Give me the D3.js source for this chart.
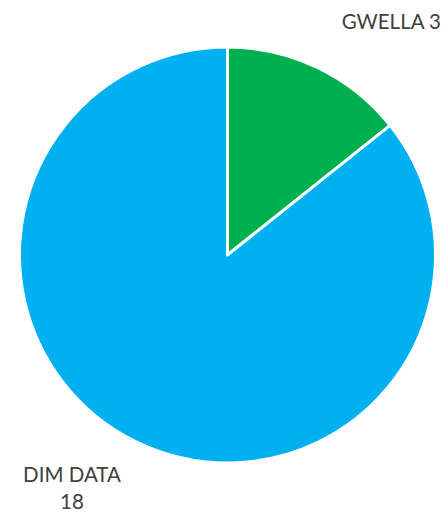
<!DOCTYPE html>
<html>
<head>
<meta charset="utf-8">
<script src="https://cdn.jsdelivr.net/npm/d3@7"></script>
<style>
  html, body { margin: 0; padding: 0; background: #fff; }
  svg text { font-family: Lato, "Open Sans", sans-serif; fill: #404040; }
</style>
</head>
<body>
<svg id="chart" width="448" height="515"></svg>
<script>
// ** Data **
const categories = ["GWELLA", "DIM DATA"];
const values = [3, 18];
const colors = ["#00B050", "#00B0F0"];

// ** Layout **
const cx = 227.5, cy = 255, radius = 208;

const svg = d3.select("#chart");

const pie = d3.pie().sort(null).value(d => d.value);
const arc = d3.arc().innerRadius(0).outerRadius(radius);

const slices = pie(categories.map((c, i) => ({ name: c, value: values[i], color: colors[i] })));

const g = svg.append("g").attr("transform", `translate(${cx},${cy})`);

g.selectAll("path")
  .data(slices)
  .join("path")
  .attr("d", arc)
  .attr("fill", d => d.data.color)
  .attr("stroke", "#fff")
  .attr("stroke-width", 3)
  .attr("stroke-linejoin", "round");

// labels (outside end, placed like the source)
const labelFont = 20.5;
svg.append("text")
  .attr("x", 441).attr("y", 29)
  .attr("text-anchor", "end")
  .style("font-size", labelFont + "px")
  .text(`${slices[0].data.name} ${slices[0].data.value}`);

const dimLabel = svg.append("text")
  .attr("x", 72).attr("y", 482)
  .attr("text-anchor", "middle")
  .style("font-size", labelFont + "px");
dimLabel.append("tspan").attr("x", 72).text(slices[1].data.name);
dimLabel.append("tspan").attr("x", 72).attr("dy", 27).text(slices[1].data.value);
</script>
</body>
</html>
